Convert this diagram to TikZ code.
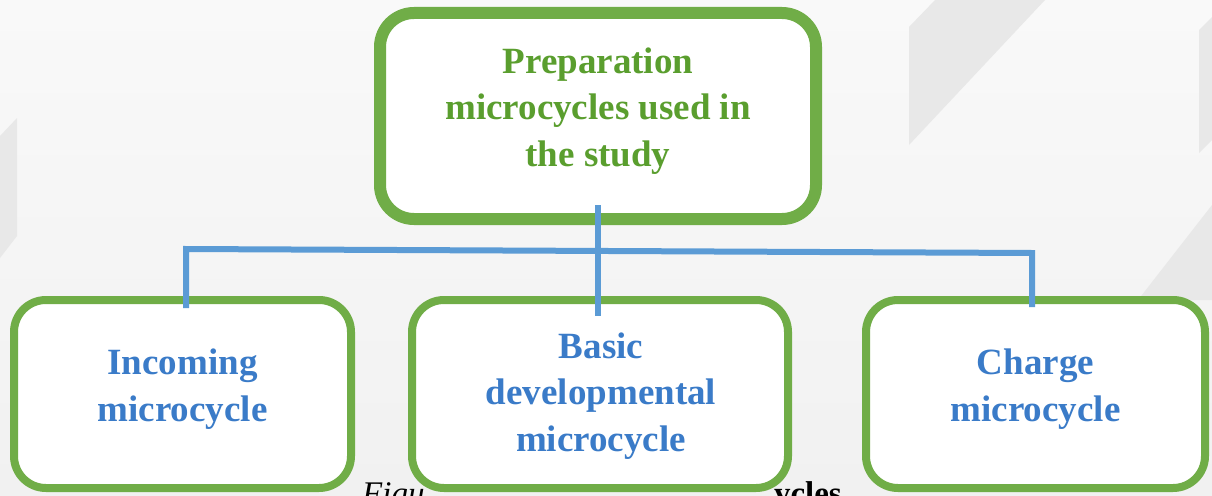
\documentclass[tikz,border=0pt]{standalone}
\usepackage{fontspec}
\setmainfont{Liberation Serif}
\definecolor{boxgreen}{HTML}{70AD47}
\definecolor{txtgreen}{HTML}{5A9E2E}
\definecolor{txtblue}{HTML}{3A7BC8}
\definecolor{connblue}{HTML}{5B9BD5}
\definecolor{bgtop}{HTML}{F9F9F9}
\definecolor{bgbot}{HTML}{F1F1F1}
\definecolor{bgshape}{HTML}{E8E8E8}
\tikzset{
  topbox/.style={draw=boxgreen, line width=12pt, fill=white, rounded corners=34pt, outer sep=0pt, inner sep=0pt},
  subbox/.style={draw=boxgreen, line width=8pt, fill=white, rounded corners=32pt, outer sep=0pt, inner sep=0pt, minimum height=188pt},
  toptext/.style={text=txtgreen, align=center, font=\bfseries\fontsize{37}{46.5}\selectfont},
  subtext/.style={text=txtblue, align=center, font=\bfseries\fontsize{37}{46.5}\selectfont},
  captext/.style={text=black, font=\fontsize{33}{40}\selectfont, inner sep=0pt},
  conn/.style={draw=connblue, line width=6pt},
  bgpoly/.style={fill=bgshape, draw=none}
}
\begin{document}
\begin{tikzpicture}[x=1pt,y=-1pt]
\useasboundingbox (0,0) rectangle (1212,495);
% background
\shade[top color=bgtop, bottom color=bgbot] (0,0) rectangle (1212,495);
\fill[bgpoly] (0,136) -- (17,118) -- (17,236) -- (0,258) -- cycle;
\fill[bgpoly] (909,27) -- (935,0) -- (1045,0) -- (909,145) -- cycle;
\fill[bgpoly] (1199,30) -- (1212,17) -- (1212,140) -- (1199,153) -- cycle;
\fill[bgpoly] (1212,205) -- (1138,300) -- (1212,300) -- cycle;
% caption fragments visible between the boxes
\node[captext, anchor=base west] (capl) at (362,504) {\textit{Figu}};
\node[captext, anchor=base east] (capr) at (842,504) {\textbf{ycles}};
% boxes
\node[topbox, minimum width=436pt, minimum height=206pt] (top) at (598,116) {};
\node[subbox, minimum width=337pt] (left) at (182.5,394) {};
\node[subbox, minimum width=376pt] (mid) at (600,394) {};
\node[subbox, minimum width=339pt] (right) at (1035.5,394) {};
% texts
\node[toptext] (toplbl) at (598,111) {Preparation\\microcycles used in\\the study};
\node[subtext] (leftlbl) at (182.5,389) {Incoming\\microcycle};
\node[subtext] (midlbl) at (601,396) {Basic\\developmental\\microcycle};
\node[subtext] (rightlbl) at (1035.5,389) {Charge\\microcycle};
% connectors
\coordinate (jL) at (186,249);
\coordinate (jR) at (1032,253);
\draw[conn] ([yshift=14pt]top.south) -- ([yshift=-16pt]top.south |- mid.north);
\draw[conn] ([yshift=-8pt]jL |- left.north) -- (jL) -- (jR) -- ([yshift=-7pt]jR |- right.north);
\end{tikzpicture}
\end{document}
